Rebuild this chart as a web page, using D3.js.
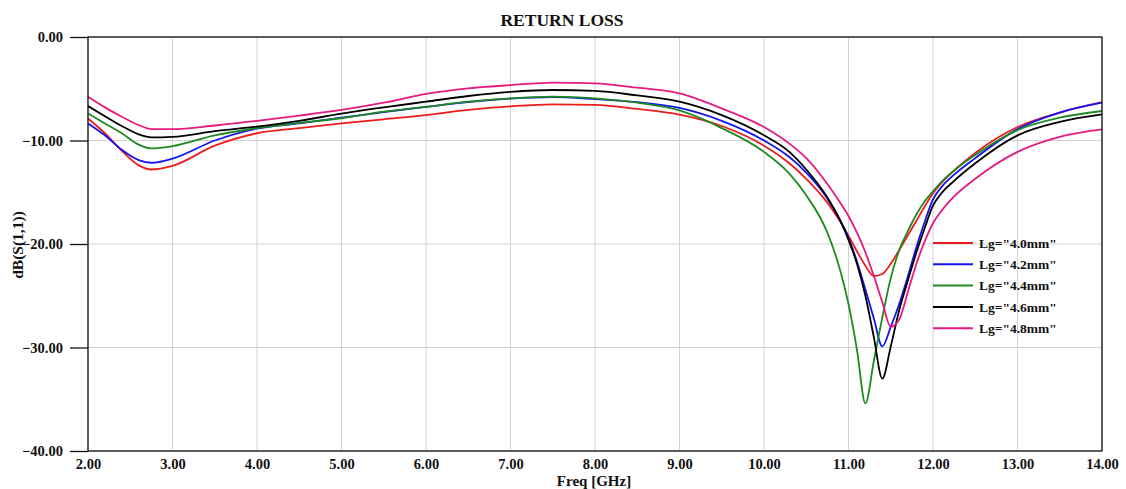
<!DOCTYPE html>
<html>
<head>
<meta charset="utf-8">
<script src="https://cdn.jsdelivr.net/npm/d3@7"></script>
<style>
  body { margin: 0; background: white; }
  text { font-family: "Liberation Serif", "Times New Roman", serif; font-weight: bold; fill: #111; }
</style>
</head>
<body>
<div id="main_div"></div>
<script>

var SVG_WIDTH = 1126;
var SVG_HEIGHT = 489;

var PLOT_LEFT = 88;
var PLOT_RIGHT = 1102;
var PLOT_TOP = 37;
var PLOT_BOTTOM = 451;

// frequency grid [GHz]
var freqs = [2.0, 2.2, 2.4, 2.6, 2.75, 3.0, 3.5, 4.0, 4.5, 5.0, 5.5, 6.0, 6.5, 7.0, 7.5, 8.0, 8.5, 9.0, 9.5, 10.0,
             10.3, 10.5, 10.75, 10.9, 11.0, 11.1, 11.2, 11.3, 11.4, 11.5, 11.6, 11.7, 11.8, 11.9, 12.0, 12.1, 12.25, 12.5, 13.0, 13.5, 14.0];

// dB(S(1,1)) for each Lg
var lg40 = [-7.87, -9.3, -11.0, -12.4, -12.8, -12.45, -10.5, -9.3, -8.8, -8.35, -7.95, -7.55, -7.05, -6.7, -6.5, -6.55, -6.95, -7.5, -8.6, -10.5,
            -12.2, -13.7, -16.0, -17.8, -19.2, -20.7, -22.1, -23.1, -22.9, -21.9, -20.6, -19.2, -17.8, -16.4, -15.1, -14.1, -12.9, -11.2, -8.7, -7.3, -6.3];
var lg42 = [-8.35, -9.5, -10.9, -11.9, -12.15, -11.75, -10.0, -8.85, -8.35, -7.8, -7.25, -6.75, -6.3, -5.95, -5.8, -6.0, -6.3, -6.85, -8.1, -10.0,
            -11.6, -13.1, -15.6, -17.7, -19.4, -21.7, -24.4, -27.2, -29.9, -28.0, -25.8, -23.2, -20.4, -17.9, -15.7, -14.5, -13.3, -11.7, -8.9, -7.3, -6.35];
var lg44 = [-7.38, -8.35, -9.3, -10.4, -10.77, -10.55, -9.5, -8.8, -8.3, -7.85, -7.22, -6.75, -6.25, -5.93, -5.77, -5.93, -6.35, -7.1, -8.8, -11.1,
            -13.2, -15.3, -18.9, -22.5, -25.8, -30.2, -35.4, -31.3, -27.1, -23.3, -20.6, -18.8, -17.2, -15.9, -14.9, -14.0, -12.9, -11.4, -9.0, -7.8, -7.15];
var lg46 = [-6.67, -7.65, -8.6, -9.4, -9.7, -9.65, -9.1, -8.65, -8.1, -7.4, -6.8, -6.25, -5.7, -5.3, -5.12, -5.2, -5.65, -6.25, -7.55, -9.5,
            -11.1, -12.8, -15.5, -17.7, -19.6, -21.9, -25.0, -29.0, -33.0, -29.9, -26.4, -23.6, -20.9, -18.5, -16.3, -15.1, -13.9, -12.2, -9.5, -8.2, -7.48];
var lg48 = [-5.77, -6.8, -7.7, -8.5, -8.9, -8.9, -8.55, -8.1, -7.6, -7.05, -6.35, -5.5, -4.96, -4.65, -4.4, -4.48, -4.9, -5.45, -6.9, -8.7,
            -10.3, -11.7, -14.2, -16.0, -17.3, -18.9, -20.8, -23.1, -25.6, -28.0, -27.3, -24.7, -22.0, -19.8, -18.0, -16.8, -15.4, -13.7, -11.1, -9.64, -8.93];

var seriesLabels = ['Lg="4.0mm"', 'Lg="4.2mm"', 'Lg="4.4mm"', 'Lg="4.6mm"', 'Lg="4.8mm"'];
var seriesColors = ["#ee1c1c", "#1414f0", "#1f8a1f", "#000000", "#e8197f"];

var xTicks = [2, 3, 4, 5, 6, 7, 8, 9, 10, 11, 12, 13, 14];
var yTicks = [0, -10, -20, -30, -40];


function drawChart() {

  var svg = d3.select("#main_div").append("svg")
                .attr("width", SVG_WIDTH)
                .attr("height", SVG_HEIGHT);

  var x = d3.scaleLinear().domain([2, 14]).range([PLOT_LEFT, PLOT_RIGHT]);
  var y = d3.scaleLinear().domain([-40, 0]).range([PLOT_BOTTOM, PLOT_TOP]);

  // Grid lines
  svg.append("g")
      .selectAll("line")
      .data(xTicks).enter()
    .append("line")
      .attr("x1", function(d) { return x(d); })
      .attr("x2", function(d) { return x(d); })
      .attr("y1", PLOT_TOP)
      .attr("y2", PLOT_BOTTOM)
      .style("stroke", "#d2d2d2")
      .style("stroke-width", 1);

  svg.append("g")
      .selectAll("line")
      .data(yTicks).enter()
    .append("line")
      .attr("x1", PLOT_LEFT)
      .attr("x2", PLOT_RIGHT)
      .attr("y1", function(d) { return y(d); })
      .attr("y2", function(d) { return y(d); })
      .style("stroke", "#d2d2d2")
      .style("stroke-width", 1);

  // Curves
  var allSeries = [lg40, lg42, lg44, lg46, lg48];
  var line = d3.line()
                .x(function(d, i) { return x(freqs[i]); })
                .y(function(d) { return y(d); })
                .curve(d3.curveMonotoneX);

  svg.append("g")
      .selectAll("path")
      .data(allSeries).enter()
    .append("path")
      .attr("d", line)
      .style("fill", "none")
      .style("stroke", function(d, i) { return seriesColors[i]; })
      .style("stroke-width", 1.8);

  // Frame
  svg.append("rect")
      .attr("x", PLOT_LEFT)
      .attr("y", PLOT_TOP)
      .attr("width", PLOT_RIGHT - PLOT_LEFT)
      .attr("height", PLOT_BOTTOM - PLOT_TOP)
      .style("fill", "none")
      .style("stroke", "#111")
      .style("stroke-width", 1.3);

  // Y axis
  var yAxis = d3.axisLeft(y)
                .tickValues(yTicks)
                .tickSize(18)
                .tickPadding(7)
                .tickFormat(d3.format(".2f"));
  var yg = svg.append("g")
              .attr("transform", "translate(" + PLOT_LEFT + ",0)")
              .call(yAxis);
  yg.select(".domain").remove();
  yg.selectAll("line").style("stroke", "#111").style("stroke-width", 1.3);
  yg.selectAll("text")
      .attr("font-family", null)
      .style("font-size", "14.5px");

  // X axis
  var xAxis = d3.axisBottom(x)
                .tickValues(xTicks)
                .tickSize(0)
                .tickPadding(8)
                .tickFormat(d3.format(".2f"));
  var xg = svg.append("g")
              .attr("transform", "translate(0," + PLOT_BOTTOM + ")")
              .call(xAxis);
  xg.select(".domain").remove();
  xg.selectAll("text")
      .attr("font-family", null)
      .style("font-size", "14.5px");

  // Titles
  svg.append("text")
      .attr("x", 562)
      .attr("y", 26)
      .attr("text-anchor", "middle")
      .style("font-size", "17.5px")
      .text("RETURN LOSS");

  svg.append("text")
      .attr("x", 594)
      .attr("y", 486)
      .attr("text-anchor", "middle")
      .style("font-size", "15px")
      .text("Freq [GHz]");

  svg.append("text")
      .attr("transform", "translate(23,245) rotate(-90)")
      .attr("text-anchor", "middle")
      .style("font-size", "15.5px")
      .text("dB(S(1,1))");

  // Legend
  var legend = svg.append("g")
                  .selectAll("g")
                  .data(seriesLabels).enter()
                .append("g")
                  .attr("transform", function(d, i) { return "translate(933," + (243 + i * 21.3) + ")"; });

  legend.append("line")
          .attr("x1", 0)
          .attr("x2", 40)
          .style("stroke", function(d, i) { return seriesColors[i]; })
          .style("stroke-width", 2);

  legend.append("text")
          .attr("x", 46)
          .attr("dy", "0.35em")
          .style("font-size", "13.5px")
          .text(function(d) { return d; });
}

drawChart();

</script>
</body>
</html>
